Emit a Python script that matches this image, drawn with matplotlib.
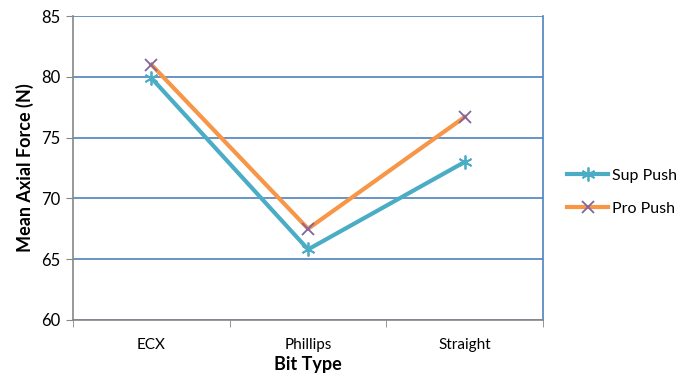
import numpy as np
import matplotlib.pyplot as plt
import matplotlib as mpl

mpl.rcParams['font.family'] = ['Lato', 'DejaVu Sans']

# mean axial force per bit type
bit_types = ['ECX', 'Phillips', 'Straight']
sup_push = [79.9, 65.8, 73.0]
pro_push = [81.0, 67.5, 76.7]
y_ticks = [60, 65, 70, 75, 80, 85]

fig = plt.figure(figsize=(6.9, 3.75), dpi=100)
ax = fig.add_axes([0.106, 0.147, 0.681, 0.81])

x = np.arange(len(bit_types))
ax.plot(x, sup_push, color='#4BACC6', lw=3, marker=(6, 2, 0), ms=10,
        mec='#4BACC6', mew=1.3, label='Sup Push', zorder=3)
ax.plot(x, pro_push, color='#F79646', lw=3, marker='x', ms=9,
        mec='#8064A2', mew=1.3, label='Pro Push', zorder=3)

ax.set_xlim(-0.5, 2.5)
ax.set_ylim(60, 85)
ax.set_yticks(y_ticks)
ax.yaxis.grid(True, color='#4F81BD', lw=1.2)
ax.set_axisbelow(True)

# category labels centred, tick marks on boundaries
ax.set_xticks(x)
ax.set_xticklabels(bit_types, fontsize=11)
ax.tick_params(axis='x', length=0, pad=13)
ax.set_xticks([-0.5, 0.5, 1.5, 2.5], minor=True)
ax.tick_params(axis='x', which='minor', length=5, color='#868686', direction='out')
ax.tick_params(axis='y', length=5, color='#868686', labelsize=12, pad=4)

for side in ['left', 'bottom']:
    ax.spines[side].set_color('#868686')
    ax.spines[side].set_linewidth(1.2)
ax.spines['right'].set_color('#4F81BD')
ax.spines['right'].set_linewidth(1.2)
ax.spines['top'].set_visible(False)

ax.set_ylabel('Mean Axial Force (N)', fontsize=13, fontweight='bold', labelpad=5)
ax.set_xlabel('Bit Type', fontsize=13, fontweight='bold', labelpad=3)

ax.legend(loc='center left', bbox_to_anchor=(1.02, 0.42), frameon=False,
          fontsize=11.5, handlelength=2.6, labelspacing=1.2, handletextpad=0.2)

fig.savefig('out.png', dpi=100)
